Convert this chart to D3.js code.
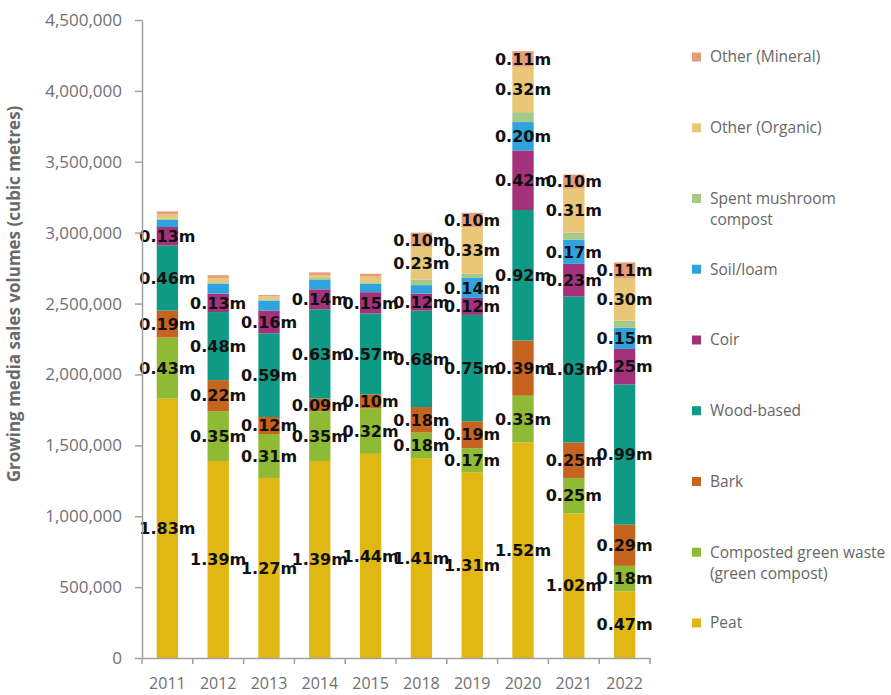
<!DOCTYPE html>
<html>
<head>
<meta charset="utf-8">
<script src="https://cdn.jsdelivr.net/npm/d3@7"></script>
<style>
  body { margin: 0; background: #fff; }
  svg { display: block; }
</style>
</head>
<body>
<svg id="chart" width="891" height="695"></svg>
<script>
// years on the x axis
const years = ["2011", "2012", "2013", "2014", "2015", "2018", "2019", "2020", "2021", "2022"];

// sales volumes, millions of cubic metres (bottom of stack first)
const peat         = [1.83, 1.39, 1.27, 1.39, 1.44, 1.41, 1.31, 1.52, 1.02, 0.47];
const greenCompost = [0.43, 0.35, 0.31, 0.35, 0.32, 0.18, 0.17, 0.33, 0.25, 0.18];
const bark         = [0.19, 0.22, 0.12, 0.09, 0.10, 0.18, 0.19, 0.39, 0.25, 0.29];
const woodBased    = [0.46, 0.48, 0.59, 0.63, 0.57, 0.68, 0.75, 0.92, 1.03, 0.99];
const coir         = [0.13, 0.13, 0.16, 0.14, 0.15, 0.12, 0.12, 0.42, 0.23, 0.25];
const soilLoam     = [0.05, 0.07, 0.07, 0.07, 0.06, 0.06, 0.14, 0.20, 0.17, 0.15];
const mushroom     = [0.01, 0.01, 0.01, 0.01, 0.01, 0.04, 0.03, 0.07, 0.05, 0.05];
const otherOrganic = [0.03, 0.03, 0.02, 0.02, 0.04, 0.23, 0.33, 0.32, 0.31, 0.30];
const otherMineral = [0.02, 0.02, 0.01, 0.02, 0.02, 0.10, 0.10, 0.11, 0.10, 0.11];

const seriesNames = ["Peat", "Composted green waste (green compost)", "Bark", "Wood-based",
  "Coir", "Soil/loam", "Spent mushroom compost", "Other (Organic)", "Other (Mineral)"];
const seriesValues = [peat, greenCompost, bark, woodBased, coir, soilLoam, mushroom, otherOrganic, otherMineral];

// y axis ticks
const yTicks = [0, 500000, 1000000, 1500000, 2000000, 2500000, 3000000, 3500000, 4000000, 4500000];

const colors = ["#e1b713", "#8fba33", "#c6641f", "#0f9a86", "#a3327a", "#2ea3de", "#a6c98a", "#e8c878", "#e59c7a"];

// build rows for d3.stack
const rows = years.map((yr, i) => {
  const r = {year: yr};
  seriesNames.forEach((s, k) => r[s] = seriesValues[k][i] * 1e6);
  return r;
});

const svg = d3.select("#chart");
const plot = {left: 142, right: 650, top: 20, bottom: 658};

const y = d3.scaleLinear().domain([0, 4500000]).range([plot.bottom, plot.top]);
const x = d3.scaleBand().domain(years).range([plot.left, plot.right])
  .paddingInner(0.58).paddingOuter(0.29);
const xCat = d3.scaleBand().domain(years).range([plot.left, plot.right]).padding(0);

const stacked = d3.stack().keys(seriesNames)(rows);

// bars
const layers = svg.append("g").selectAll("g")
  .data(stacked)
  .join("g")
  .attr("fill", (d, i) => colors[i]);

layers.selectAll("rect")
  .data(d => d)
  .join("rect")
  .attr("x", d => x(d.data.year))
  .attr("y", d => y(d[1]))
  .attr("width", x.bandwidth())
  .attr("height", d => y(d[0]) - y(d[1]));

// value labels
const labels = svg.append("g")
  .attr("font-family", "DejaVu Sans, sans-serif")
  .attr("font-weight", "bold")
  .attr("font-size", 16)
  .attr("fill", "#111")
  .attr("text-anchor", "middle");

stacked.forEach(layer => {
  layer.forEach(d => {
    const v = (d[1] - d[0]) / 1e6;
    if (v < 0.085) return;
    labels.append("text")
      .attr("x", x(d.data.year) + x.bandwidth() / 2)
      .attr("y", y((d[0] + d[1]) / 2))
      .attr("dy", "0.36em")
      .text(v.toFixed(2) + "m");
  });
});

// y axis
const yAxis = svg.append("g")
  .attr("transform", `translate(${plot.left},0)`)
  .call(d3.axisLeft(y).tickValues(yTicks).tickFormat(d3.format(",")).tickSize(7).tickPadding(13).tickSizeOuter(0));
yAxis.select(".domain").attr("stroke", "#a0a0a0").attr("stroke-width", 1.5);
yAxis.selectAll(".tick line").attr("stroke", "#a0a0a0").attr("stroke-width", 1.5);
yAxis.selectAll(".tick text")
  .attr("font-family", "Open Sans, sans-serif")
  .attr("font-size", 17)
  .attr("fill", "#707070");

// x axis: labels under each bar, tick marks between categories
const xAxis = svg.append("g")
  .attr("transform", `translate(0,${plot.bottom})`)
  .call(d3.axisBottom(xCat).tickSize(0).tickPadding(20).tickSizeOuter(0));
xAxis.select(".domain").attr("stroke", "#a0a0a0").attr("stroke-width", 1.5);
xAxis.selectAll(".tick text")
  .attr("font-family", "Open Sans, sans-serif")
  .attr("font-size", 16)
  .attr("fill", "#707070");
xAxis.selectAll(".sep")
  .data(years.concat([null]))
  .join("line")
  .attr("class", "sep")
  .attr("x1", (d, i) => i < years.length ? xCat(d) : plot.right)
  .attr("x2", (d, i) => i < years.length ? xCat(d) : plot.right)
  .attr("y1", 0)
  .attr("y2", 6)
  .attr("stroke", "#a0a0a0")
  .attr("stroke-width", 1.5);

// y axis title
svg.append("text")
  .attr("transform", `translate(20,${(plot.top + plot.bottom) / 2 - 45}) rotate(-90)`)
  .attr("text-anchor", "middle")
  .attr("font-family", "Open Sans, sans-serif")
  .attr("font-weight", "bold")
  .attr("font-size", 17)
  .attr("fill", "#6a6a6a")
  .text("Growing media sales volumes (cubic metres)");

// legend, top entry is the top of the stack
const legendItems = seriesNames.map((s, i) => ({name: s, color: colors[i]})).reverse();
const legendLines = {
  "Spent mushroom compost": ["Spent mushroom", "compost"],
  "Composted green waste (green compost)": ["Composted green waste", "(green compost)"]
};
const legend = svg.append("g")
  .attr("font-family", "Open Sans, sans-serif")
  .attr("font-size", 15.5)
  .attr("fill", "#666");

const ly = d3.scalePoint().domain(legendItems.map(d => d.name)).range([57, 623]);

legendItems.forEach(item => {
  const cy = ly(item.name);
  legend.append("rect")
    .attr("x", 692).attr("y", cy - 4.5)
    .attr("width", 9).attr("height", 9)
    .attr("fill", item.color);
  const lines = legendLines[item.name] || [item.name];
  lines.forEach((ln, j) => {
    legend.append("text")
      .attr("x", 710)
      .attr("y", cy + j * 21)
      .attr("dy", "0.35em")
      .text(ln);
  });
});
</script>
</body>
</html>
